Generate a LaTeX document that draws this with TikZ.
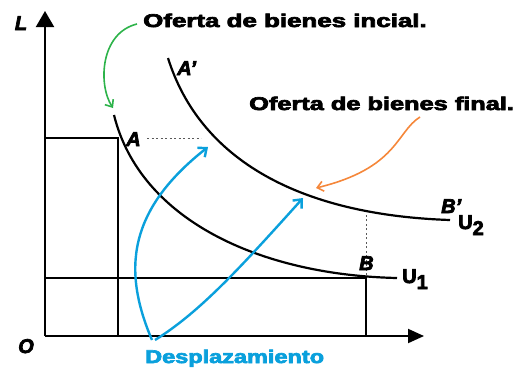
\documentclass[tikz,border=0pt]{standalone}
\usepackage{fontspec}
\setmainfont{Liberation Sans}
\newfontfamily\heavy[BoldFeatures={FakeBold=3.5},BoldItalicFeatures={FakeBold=3.5}]{Liberation Sans}
\usetikzlibrary{arrows.meta}
\definecolor{grn}{HTML}{2DB34A}
\definecolor{org}{HTML}{F5873A}
\definecolor{blu}{HTML}{0AA0DC}
\begin{document}
\begin{tikzpicture}[x=1pt,y=-1pt,
  ax/.style={line width=2pt},
  guide/.style={line width=1.5pt},
  curve/.style={line width=2.2pt},
  dots/.style={line width=1pt, gray!70!black, dash pattern=on 2pt off 2.5pt},
  bigtxt/.style={font=\fontsize{18.5}{20}\selectfont\heavy\bfseries, inner sep=0pt},
  lbl/.style={font=\fontsize{20}{22}\selectfont\heavy\bfseries\itshape, inner sep=0pt},
  ulbl/.style={font=\fontsize{20}{22}\selectfont\heavy\bfseries, inner sep=0pt},
  carrow/.style={line width=1.6pt, -{Straight Barb[length=6pt,width=10pt]}},
  barrow/.style={line width=2.4pt, -{Straight Barb[length=7pt,width=12pt]}}
]
\useasboundingbox (0,0) rectangle (513,368);
% axes
\coordinate (O) at (45,336);
\coordinate (Ytop) at (45,11);
\coordinate (Xend) at (424,336);
\draw[ax,-{Triangle[length=16pt,width=18pt]}] (O) -- (Ytop);
\draw[ax,-{Triangle[length=16pt,width=14pt]}] (O) -- (Xend);
\node[lbl, anchor=base] (Lab) at (21,30) {L};
\node[lbl, anchor=base] (Olab) at (26,353) {O};
% guide lines
\coordinate (Ay) at (45,138);
\coordinate (Apt) at (118,138);
\coordinate (Ax) at (118,336);
\coordinate (By) at (45,278);
\coordinate (Bpt) at (366,278);
\coordinate (Bx) at (366,336);
\draw[guide] (Ay) -- (Apt) -- (Ax);
\draw[guide] (By) -- (Bpt) -- (Bx);
% dotted
\coordinate (Ad1) at (147,138);
\coordinate (Ad2) at (201,138);
\coordinate (Bd1) at (366,275);
\coordinate (Bd2) at (366,213);
\draw[dots] (Ad1) -- (Ad2);
\draw[dots] (Bd1) -- (Bd2);
% U1
\coordinate (u1s) at (114,115);
\coordinate (u1e) at (397,278);
\draw[curve] (u1s) .. controls (140,220) and (260,275) .. (u1e);
% U2
\coordinate (u2s) at (168,58);
\coordinate (u2e) at (450,220);
\draw[curve] (u2s) .. controls (200,160) and (300,215) .. (u2e);
% labels
\node[lbl, anchor=base west] (Aplab) at (177,75) {A’};
\node[lbl, anchor=base west] (Alab) at (126,146) {A};
\node[lbl, anchor=base west] (Bplab) at (441,213) {B’};
\node[lbl, anchor=base west] (Blab) at (359,270) {B};
\node[ulbl, anchor=base west] (U2) at (458,229) {U\raisebox{-6pt}{2}};
\node[ulbl, anchor=base west] (U1) at (402,283) {U\raisebox{-6pt}{1}};
% texts
\node[bigtxt, anchor=base west] (ini) at (143,27) {\scalebox{1.40}[1]{Oferta de bienes incial.}};
\node[bigtxt, anchor=base west] (fin) at (249,110) {\scalebox{1.37}[1]{Oferta de bienes final.}};
\node[bigtxt, anchor=base west, text=blu] (desp) at (145,363) {\scalebox{1.27}[1]{Desplazamiento}};
% colored arrows
\coordinate (g0) at (137,24);
\coordinate (g1) at (113,108);
\draw[carrow, grn] (g0) .. controls (100,33) and (98,85) .. (g1);
\coordinate (o0) at (420,117);
\coordinate (o1) at (316,188);
\draw[carrow, org] (o0) .. controls (396,132) and (398,168) .. (o1);
\coordinate (b0) at (152,340);
\coordinate (b1) at (208,147);
\coordinate (c0) at (155,340);
\coordinate (c1) at (303,198);
\draw[barrow, blu] (b0) .. controls (122,270) and (128,210) .. (b1);
\draw[barrow, blu] (c0) .. controls (200,312) and (240,268) .. (c1);
\end{tikzpicture}
\end{document}
